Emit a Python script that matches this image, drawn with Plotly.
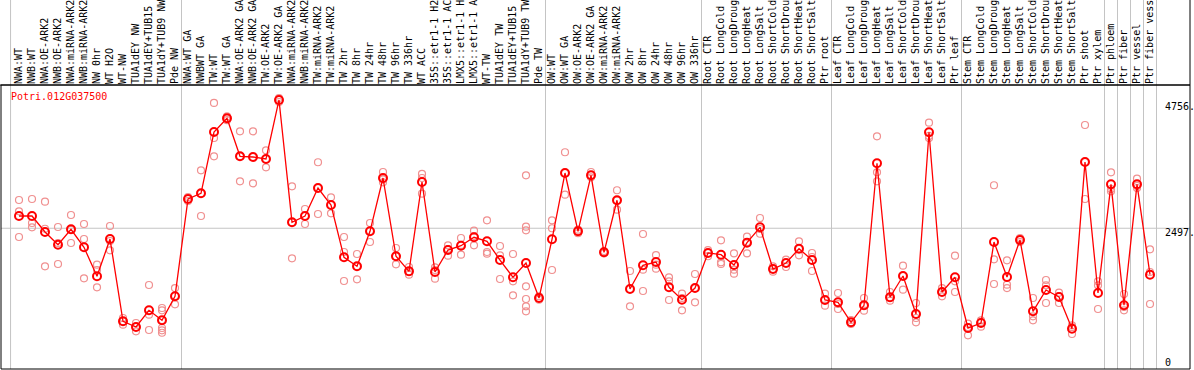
import plotly.graph_objects as go

gene = "Potri.012G037500"

labels = [
    "NWA:WT", "NWB:WT", "NWA:OE-ARK2", "NWB:OE-ARK2", "NWA:miRNA-ARK2", "NWB:miRNA-ARK2",
    "NW 0hr", "WT H2O", "WT-NW", "TUA1dEY NW", "TUA1dEY+TUB15", "TUA1dY+TUB9 NW", "Pde NW",
    "NWA:WT GA", "NWBWT GA", "TW:WT", "TW:WT GA", "NWA:OE-ARK2 GA", "NWB:OE-ARK2 GA",
    "TW:OE-ARK2", "TW:OE-ARK2 GA", "NWA:miRNA-ARK2", "NWB:miRNA-ARK2", "TW:miRNA-ARK2",
    "TW:miRNA-ARK2", "TW 2hr", "TW 8hr", "TW 24hr", "TW 48hr", "TW 96hr", "TW 336hr",
    "WT ACC", "35S::etr1-1 H2", "35S::etr1-1 AC", "LMX5::etr1-1 H", "LMX5::etr1-1 A",
    "WT-TW", "TUA1dEY TW", "TUA1dEY+TUB15", "TUA1dY+TUB9 TW", "Pde TW",
    "OW:WT", "OW:WT GA", "OW:OE-ARK2", "OW:OE-ARK2 GA", "OW:miRNA-ARK2", "OW:miRNA-ARK2",
    "OW 2hr", "OW 8hr", "OW 24hr", "OW 48hr", "OW 96hr", "OW 336hr",
    "Root CTR", "Root LongCold", "Root LongDroug", "Root LongHeat", "Root LongSalt",
    "Root ShortCold", "Root ShortDrou", "Root ShortHeat", "Root ShortSalt", "Ptr root",
    "Leaf CTR", "Leaf LongCold", "Leaf LongDroug", "Leaf LongHeat", "Leaf LongSalt",
    "Leaf ShortCold", "Leaf ShortDrou", "Leaf ShortHeat", "Leaf ShortSalt", "Ptr leaf",
    "Stem CTR", "Stem LongCold", "Stem LongDroug", "Stem LongHeat", "Stem LongSalt",
    "Stem ShortCold", "Stem ShortDrou", "Stem ShortHeat", "Stem ShortSalt", "Ptr shoot",
    "Ptr xylem", "Ptr phloem", "Ptr fiber", "Ptr vessel", "Ptr fiber vess",
]

means = [
    2713, 2713, 2431, 2208, 2479, 2162, 1651, 2308, 859, 759, 1053, 877, 1299,
    3012, 3113, 4192, 4433, 3764, 3752, 3717, 4756, 2602, 2713, 3206, 2907,
    1986, 1827, 2444, 3382, 2004, 1739, 3312, 1727, 2114, 2190, 2338, 2268,
    1938, 1634, 1886, 1269,
    2303, 3470, 2444, 3430, 2074, 2990, 1428, 1845, 1903, 1458, 1239, 1445,
    2062, 2032, 1850, 2243, 2514, 1780, 1886, 2137, 1938, 1234,
    1194, 842, 1141, 3641, 1282, 1657, 988, 4187, 1375, 1634,
    741, 829, 2255, 1639, 2291, 1035, 1410, 1287, 729, 3664, 1357,
    3271, 1141, 3271, 1680,
]

replicates = [
    [2995, 2796, 2343], [3012, 2590, 2514], [2965, 2489, 1827], [2519, 1868, 2238],
    [2731, 2238, 2467], [2572, 2308, 1616], [1856, 1762, 1458], [2537, 2109, 2273],
    [917, 799, 859], [829, 683, 759], [1498, 975, 706], [1093, 1053, 741, 701, 658, 882],
    [1445, 1158, 1305],
    [3048, 3012, 2977], [3518, 2713, 3109], [4703, 4086, 3764], [4400, 4433, 4466],
    [4204, 3324, 3764], [4204, 3289, 3752], [3870, 3570, 3717], [4720, 4756, 4790],
    [3236, 1968, 2602], [2836, 2572, 2713], [3659, 2748, 3206], [3042, 2761, 2907],
    [2343, 2079, 1569], [2044, 1599, 1827], [2590, 2255, 2449], [3488, 3306, 3356],
    [2150, 1863, 2000], [1815, 1680, 1727], [3453, 3106, 3382], [1810, 1609, 1762],
    [2197, 2014, 2132], [2326, 2032, 2203], [2454, 2197, 2361], [2637, 2079, 2049],
    [2185, 2021, 1604], [2044, 1563, 1317], [3430, 2525, 2461, 1475, 1252, 1123, 1035],
    [1240, 1269, 1300],
    [2637, 2497, 1762], [3835, 3088, 3470], [2409, 2472, 2449], [3488, 3394, 3435],
    [2056, 2097, 2070], [3166, 2824, 2986], [1745, 1123, 1428], [2396, 1768, 1393],
    [2026, 1856, 1785], [1634, 1563, 1234], [1345, 1053, 1269], [1692, 1194, 1445],
    [2004, 2114, 2062], [2285, 1898, 1868], [2056, 1768, 1697], [2349, 2056, 2255],
    [2678, 2401, 2484], [1827, 1732, 1780], [1944, 1815, 1886], [2268, 2021, 2132],
    [2062, 1745, 1991], [1345, 1134, 1234],
    [1357, 1076, 1164], [882, 812, 842], [1269, 1046, 1129], [4116, 3482, 3324],
    [1375, 1222, 1269], [1838, 1416, 1657], [1181, 842, 917], [4356, 4086, 4122],
    [1445, 1299, 1375], [2014, 1375, 1563],
    [817, 613, 759], [877, 764, 847], [3254, 1951, 1516], [1933, 1504, 1445],
    [2326, 2255, 2291], [1269, 947, 877], [1586, 1493, 1181], [1363, 1181, 1305],
    [789, 636, 759], [4315, 3012, 3664], [1563, 1493, 1076],
    [3482, 3148, 3188], [1340, 1053, 1111], [3370, 3206, 3241], [2127, 1727, 1164],
]

axis_labels = ["4756.", "2497.", "0"]
axis_values = [4756, 2497.5, 0]
group_bounds = [-0.65, 12.5, 40.5, 52.5, 62.5, 72.5, 83.5, 84.5, 85.5, 86.5, 87.5]

MONO = "DejaVu Sans Mono"
idx = list(range(len(labels)))

rep_x, rep_y = [], []
for i, reps in enumerate(replicates):
    for v in reps:
        rep_x.append(i)
        rep_y.append(v)

fig = go.Figure()
fig.add_trace(go.Scatter(
    x=rep_x, y=rep_y, mode="markers",
    marker=dict(symbol="circle-open", size=7, color="#f09090", line=dict(width=1.2, color="#f09090")),
    showlegend=False, hoverinfo="skip",
))
fig.add_trace(go.Scatter(
    x=idx, y=means, mode="lines+markers",
    line=dict(color="#ff0000", width=1.3),
    marker=dict(symbol="circle-open", size=8, color="#ff0000", line=dict(width=2, color="#ff0000")),
    showlegend=False,
))

shapes = []
for b in group_bounds:
    shapes.append(dict(type="line", xref="x", yref="paper", x0=b, x1=b, y0=0, y1=1.31,
                       line=dict(color="#c4c4c4", width=1), layer="below"))
shapes.append(dict(type="line", xref="paper", yref="y", x0=0, x1=1, y0=axis_values[1], y1=axis_values[1],
                   line=dict(color="#c4c4c4", width=1), layer="below"))
shapes.append(dict(type="rect", xref="paper", yref="paper", x0=0, x1=1, y0=0, y1=1,
                   line=dict(color="black", width=1)))
shapes.append(dict(type="line", xref="paper", yref="paper", x0=-0.01, x1=1, y0=1, y1=1,
                   line=dict(color="black", width=1)))
shapes.append(dict(type="line", xref="paper", yref="paper", x0=1, x1=1, y0=1, y1=1.31,
                   line=dict(color="black", width=1)))

annotations = [dict(text=gene, xref="paper", yref="paper", x=0.007, y=0.958,
                    xanchor="left", yanchor="middle", showarrow=False,
                    font=dict(family=MONO, size=10, color="#ff0000"))]
for t, v, s in zip(axis_labels[:2], axis_values[:2], [-7, -4]):
    annotations.append(dict(text=t, xref="paper", yref="y", x=0.9773, y=v, yshift=s,
                            xanchor="left", yanchor="middle", showarrow=False,
                            font=dict(family=MONO, size=10, color="black")))
annotations.append(dict(text=axis_labels[2], xref="paper", yref="paper", x=0.9773, y=0, yshift=7,
                        xanchor="left", yanchor="middle", showarrow=False,
                        font=dict(family=MONO, size=10, color="black")))

fig.update_layout(
    width=1194, height=370,
    margin=dict(l=1, r=4, t=85, b=1),
    paper_bgcolor="white", plot_bgcolor="white",
    shapes=shapes, annotations=annotations,
    xaxis=dict(range=[-1.3846, 90.077], side="top", tickmode="array", tickvals=idx, ticktext=labels,
               tickangle=-90, tickfont=dict(family=MONO, size=10, color="black"),
               showgrid=False, zeroline=False, showline=False, ticks="", automargin=False),
    yaxis=dict(range=[19.4, 5019.4], showticklabels=False, showgrid=False, zeroline=False,
               showline=False, ticks="", automargin=False),
)

fig.write_html("out.html", config={"displayModeBar": False},
               post_script="document.body.style.margin='0';")
